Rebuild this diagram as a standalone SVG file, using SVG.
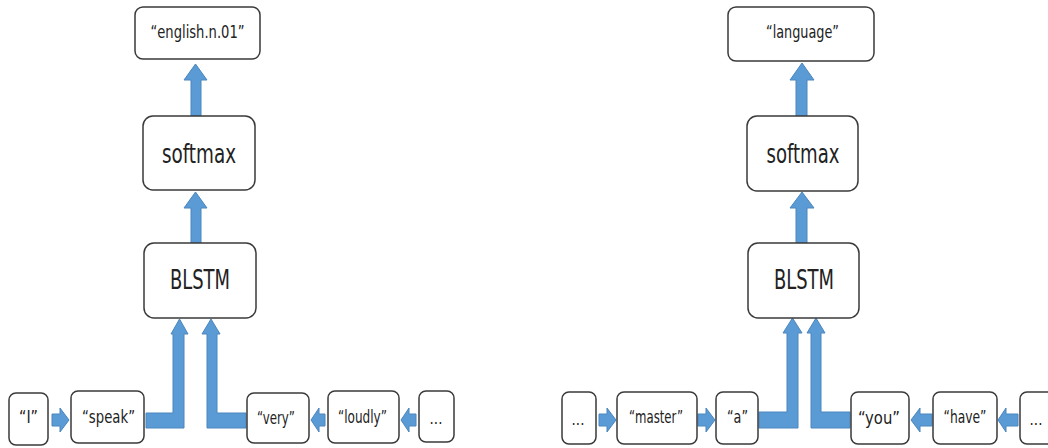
<svg xmlns="http://www.w3.org/2000/svg" width="1048" height="448" viewBox="0 0 1048 448">
<style>
.box{fill:#fff;stroke:#3a3a3a;stroke-width:1.5}
.arr{fill:#5b9bd5;stroke:#4a86bd;stroke-width:1}
text{font-family:"DejaVu Sans Condensed","DejaVu Sans",sans-serif;fill:#222;text-anchor:middle}
.s{font-size:18px}
.d{font-size:15px}
.m{font-size:17px}
.l{font-size:26px}
</style>
<rect width="1048" height="448" fill="#fff"/>
<g id="connectors">
<path class="arr" d="M191,116 V80 H184 L195.5,64 L207,80 H201 V116 Z"/>
<path class="arr" d="M191,243 V208 H184 L195.5,192 L207,208 H201 V243 Z"/>
<path class="arr" d="M146,413 H173 V334 H171 L179.5,319 L188,334 H184 V428 H146 Z"/>
<path class="arr" d="M246,413 H217 V334 H220 L211,319 L202,334 H207 V428 H246 Z"/>
<path class="arr" d="M52,414 H60 V408 L69,420 L60,432 V426 H52 Z"/>
<path class="arr" d="M325,414 H319 V408 L311,420 L319,432 V426 H325 Z"/>
<path class="arr" d="M416,414 H409 V408 L401,420 L409,432 V426 H416 Z"/>
<path class="arr" d="M796,116 V80 H790 L802,63 L814,80 H807 V116 Z"/>
<path class="arr" d="M796,243 V208 H790 L802,192 L814,208 H807 V243 Z"/>
<path class="arr" d="M759,412 H787 V333 H783 L792.5,318 L802,333 H798 V428 H759 Z"/>
<path class="arr" d="M850,412 H821 V333 H825 L816,318 L807,333 H811 V428 H850 Z"/>
<path class="arr" d="M599,414 H607 V408 L616,420 L607,432 V426 H599 Z"/>
<path class="arr" d="M698,414 H706 V408 L715,420 L706,432 V426 H698 Z"/>
<path class="arr" d="M932,414 H920 V408 L911,420 L920,432 V426 H932 Z"/>
<path class="arr" d="M1018,414 H1006 V408 L998,420 L1006,432 V426 H1018 Z"/>
</g>
<g id="out-left"><rect class="box" x="135" y="7" width="125" height="52" rx="8"/><text class="m" x="197.5" y="38" textLength="94" lengthAdjust="spacingAndGlyphs">“english.n.01”</text></g>
<g id="softmax-left"><rect class="box" x="143" y="116" width="112" height="74" rx="10"/><text class="l" x="199" y="163" textLength="74" lengthAdjust="spacingAndGlyphs">softmax</text></g>
<g id="blstm-left"><rect class="box" x="144" y="243" width="112" height="75" rx="10"/><text class="l" x="200" y="289" textLength="60" lengthAdjust="spacingAndGlyphs">BLSTM</text></g>
<g id="w-I"><rect class="box" x="9" y="393" width="39" height="52" rx="7"/><text class="s" x="28.5" y="423" textLength="19" lengthAdjust="spacingAndGlyphs">“I”</text></g>
<g id="w-speak"><rect class="box" x="71" y="391" width="73" height="52" rx="7"/><text class="s" x="108.5" y="423" textLength="53" lengthAdjust="spacingAndGlyphs">“speak”</text></g>
<g id="w-very"><rect class="box" x="247" y="393" width="62" height="50" rx="7"/><text class="s" x="276" y="424" textLength="38" lengthAdjust="spacingAndGlyphs">“very”</text></g>
<g id="w-loudly"><rect class="box" x="328" y="391" width="71" height="52" rx="7"/><text class="s" x="362.5" y="423" textLength="49" lengthAdjust="spacingAndGlyphs">“loudly”</text></g>
<g id="w-dots-left"><rect class="box" x="419" y="391" width="35" height="51" rx="7"/><text class="d" x="436" y="424">...</text></g>
<g id="out-right"><rect class="box" x="728" y="7" width="146" height="54" rx="8"/><text class="m" x="802.5" y="38" textLength="73" lengthAdjust="spacingAndGlyphs">“language”</text></g>
<g id="softmax-right"><rect class="box" x="747" y="116" width="111" height="75" rx="10"/><text class="l" x="803" y="163" textLength="73" lengthAdjust="spacingAndGlyphs">softmax</text></g>
<g id="blstm-right"><rect class="box" x="748" y="243" width="111" height="75" rx="10"/><text class="l" x="804" y="289" textLength="60" lengthAdjust="spacingAndGlyphs">BLSTM</text></g>
<g id="w-dots-r1"><rect class="box" x="562" y="392" width="34" height="52" rx="7"/><text class="d" x="578" y="425">...</text></g>
<g id="w-master"><rect class="box" x="617" y="392" width="80" height="52" rx="7"/><text class="s" x="656" y="423" textLength="54" lengthAdjust="spacingAndGlyphs">“master”</text></g>
<g id="w-a"><rect class="box" x="716" y="392" width="42" height="52" rx="7"/><text class="s" x="737.5" y="423" textLength="21" lengthAdjust="spacingAndGlyphs">“a”</text></g>
<g id="w-you"><rect class="box" x="851" y="392" width="58" height="52" rx="7"/><text class="s" x="879" y="424" textLength="42" lengthAdjust="spacingAndGlyphs">“you”</text></g>
<g id="w-have"><rect class="box" x="933" y="392" width="64" height="52" rx="7"/><text class="s" x="965" y="423" textLength="43" lengthAdjust="spacingAndGlyphs">“have”</text></g>
<g id="w-dots-r2"><rect class="box" x="1020" y="392" width="40" height="52" rx="7"/><text class="d" x="1036" y="425">...</text></g>
</svg>
